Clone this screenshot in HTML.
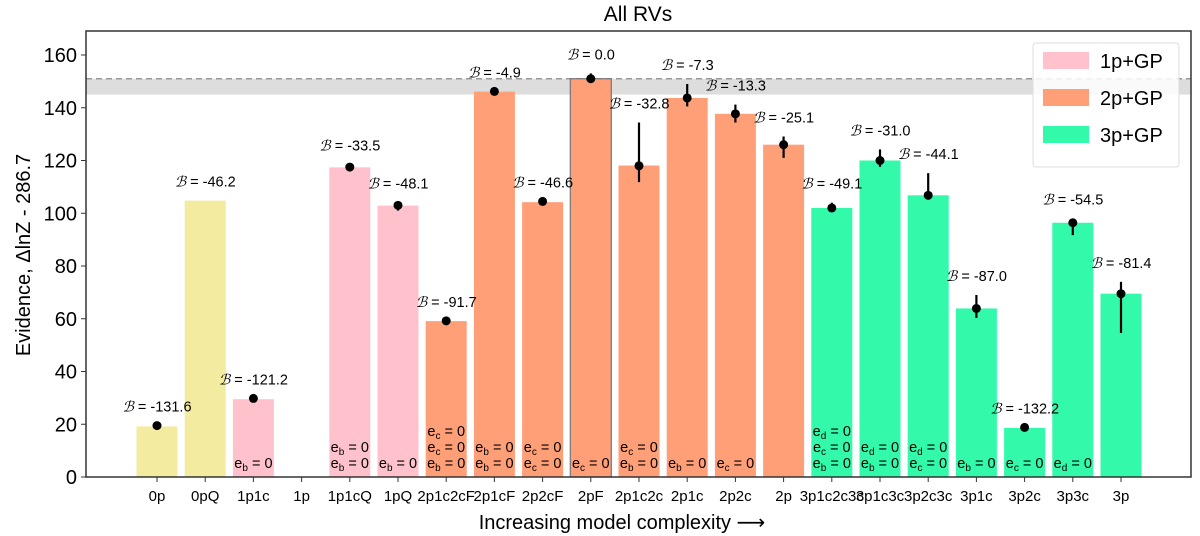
<!DOCTYPE html>
<html><head><meta charset="utf-8"><style>
html,body{margin:0;padding:0;background:#fff;}
svg{display:block;font-family:"Liberation Sans","DejaVu Sans",sans-serif;}
</style></head><body>
<svg id="chart" width="1200" height="536" viewBox="0 0 1200 536" xmlns="http://www.w3.org/2000/svg">
<text x="638" y="21" font-size="21" text-anchor="middle">All RVs</text>
<text transform="translate(30,255) rotate(-90)" font-size="20" text-anchor="middle">Evidence, ΔlnZ - 286.7</text>
<text x="622" y="529" font-size="20" text-anchor="middle">Increasing model complexity ⟶</text>
<g id="plot"></g>
</svg>
<script>
const categories=["0p","0pQ","1p1c","1p","1p1cQ","1pQ","2p1c2cF","2p1cF","2p2cF","2pF","2p1c2c","2p1c","2p2c","2p","3p1c2c3c","3p1c3c","3p2c3c","3p1c","3p2c","3p3c","3p"];
const groups=["0","0","1","1","1","1","2","2","2","2","2","2","2","2","3","3","3","3","3","3","3"];
const values=[19.2,104.8,29.5,null,117.4,102.9,59.1,146.1,104.2,151.0,118.1,143.7,137.7,126.0,102.0,120.0,106.8,63.9,18.6,96.4,69.5];
const dots=[19.5,null,29.8,null,117.5,103.0,59.2,146.2,104.5,151.0,118.0,143.7,137.7,126.0,102.0,120.0,106.8,63.9,18.8,96.4,69.5];
const errLo=[19.5,null,29.8,null,116.5,101.0,59.2,146.2,104.5,151.0,111.8,140.5,134.4,121.0,101.5,117.6,106.8,60.3,18.8,91.7,54.6];
const errHi=[19.5,null,29.8,null,118.5,104.0,59.2,146.2,104.5,153.0,134.4,149.0,141.2,129.1,104.0,124.2,115.2,69.0,18.8,98.0,74.0];
const bfLabels=["-131.6","-46.2","-121.2",null,"-33.5","-48.1","-91.7","-4.9","-46.6","0.0","-32.8","-7.3","-13.3","-25.1","-49.1","-31.0","-44.1","-87.0","-132.2","-54.5","-81.4"];
const eLabels=[[],[],["b"],[],["b","b"],["b"],["c","c","b"],["b","b"],["c","c"],["c"],["c","b"],["b"],["c"],[],["d","c","b"],["d","b"],["d","c"],["b"],["c"],["d"],[]];
const yTicks=[0,20,40,60,80,100,120,140,160];
const legendLabels=["1p+GP","2p+GP","3p+GP"];
const bestValue=151.0, bandLow=145.0;

const colors={"0":"#f3eba0","1":"#ffc2cc","2":"#ff9f78","3":"#33f9aa"};
const L=86,R=1191,T=31,B=477;
const xs=i=>157+i*48.2;
const ys=v=>B-v*(B-55)/160;
const NS="http://www.w3.org/2000/svg";
const g=document.getElementById('plot');
function mk(tag,at,parent){const e=document.createElementNS(NS,tag);for(const k in at)e.setAttribute(k,at[k]);(parent||g).appendChild(e);return e;}

let band=mk('rect',{x:L,y:ys(bestValue),width:R-L,height:ys(bandLow)-ys(bestValue),fill:'#dddddd'});


let best=mk('line',{x1:L,x2:R,y1:ys(bestValue),y2:ys(bestValue),stroke:'#999',"stroke-width":1.5,"stroke-dasharray":"6,4"});



categories.forEach((c,i)=>{
  const x=xs(i), w=41;
  if(values[i]!==null){
    const b=mk('rect',{x:x-w/2,y:ys(values[i]),width:w,height:B-ys(values[i]),fill:colors[groups[i]]});
    
    
    if(c==="2pF"){b.setAttribute('stroke','#777');b.setAttribute('stroke-width','1.2');}
  }
});

categories.forEach((c,i)=>{
  const x=xs(i);
  if(bfLabels[i]!==null){
    const top=Math.max(values[i]||0,errHi[i]||0);
    const t=mk('text',{x:x,y:ys(top)-14,"font-size":14.5,"text-anchor":"middle"});
    
    
    t.innerHTML='<tspan font-style="italic" font-family="Liberation Serif,serif">ℬ</tspan> =  '+bfLabels[i];
  }
  if(dots[i]!==null){
    const el=mk('line',{x1:x,x2:x,y1:ys(errLo[i]),y2:ys(errHi[i]),stroke:'#000',"stroke-width":2.2});
    
    
    const d=mk('circle',{cx:x,cy:ys(dots[i]),r:4.5,fill:'#000'});
    
    
  }
  const lines=eLabels[i], n=lines.length;
  lines.forEach((s,k)=>{
    const t=mk('text',{x:x,y:B-9-(n-1-k)*16,"font-size":14.5,"text-anchor":"middle"});
    
    
    t.innerHTML='e<tspan font-size="10" dy="3">'+s+'</tspan><tspan dy="-3"> = 0</tspan>';
  });
  const tk=mk('line',{x1:x,x2:x,y1:B,y2:B+5,stroke:'#333'});
  
  
  const tl=mk('text',{x:x,y:B+24,"font-size":15,"text-anchor":"middle"});
  
  
  tl.textContent=c;
});

yTicks.forEach(v=>{
  const tk=mk('line',{x1:L-5,x2:L,y1:ys(v),y2:ys(v),stroke:'#333'});
  
  
  const t=mk('text',{x:L-9,y:ys(v)+7,"font-size":20,"text-anchor":"end"});
  
  
  t.textContent=v;
});

const frame=mk('rect',{x:L,y:T,width:R-L,height:B-T,fill:'none',stroke:'#333',"stroke-width":1.5});



const lg=mk('g',{});


mk('rect',{x:1033,y:43,width:146,height:124,rx:3,fill:'#fff',"fill-opacity":0.85,stroke:'#ddd'},lg);
legendLabels.forEach((s,k)=>{
  const y=60+k*37;
  const sw=mk('rect',{x:1043,y:y-8,width:46,height:17,fill:colors[String(k+1)]},lg);
  
  
  const t=mk('text',{x:1100,y:y+8,"font-size":20},lg);
  
  
  t.textContent=s;
});
</script>
</body></html>
